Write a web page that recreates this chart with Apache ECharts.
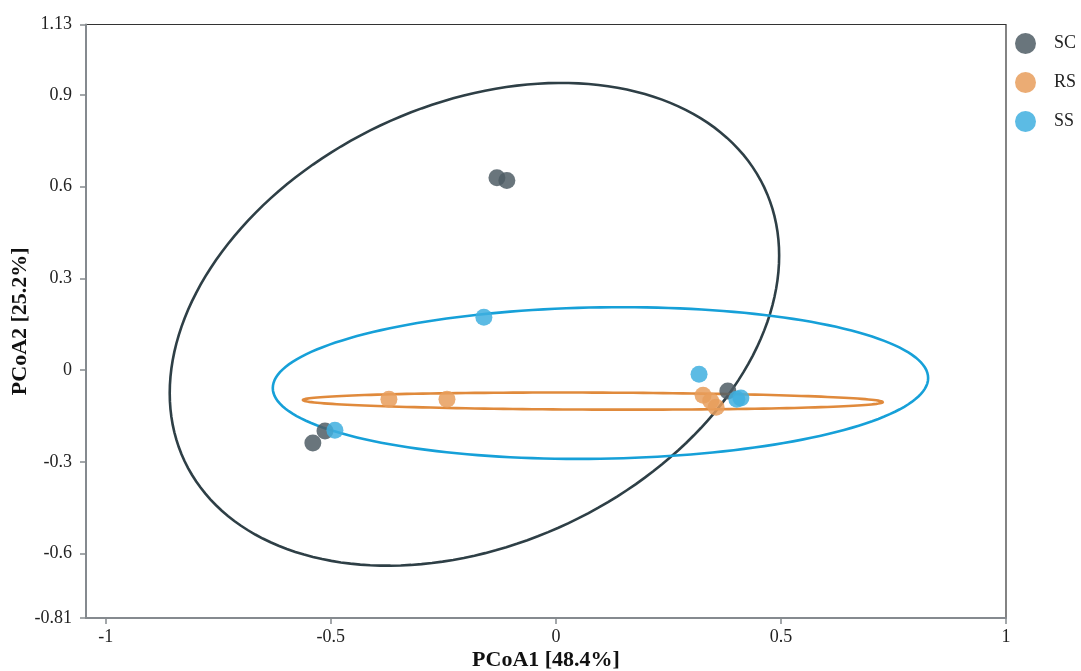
<!DOCTYPE html>
<html>
<head>
<meta charset="utf-8">
<script src="https://cdn.jsdelivr.net/npm/echarts@6/dist/echarts.min.js"></script>
<style>
html,body{margin:0;padding:0;background:#fff;}
#main{width:1081px;height:671px;}
</style>
</head>
<body>
<div id="main"></div>
<script>
// groups
var groups = ['SC', 'RS', 'SS'];
var pointColors = ['#4f5d65', '#e89d5c', '#3fafdf'];
var lineColors = ['#2e3f46', '#e08a3c', '#16a0d8'];

// sample scores [PCoA1, PCoA2]
var scPoints = [[-0.131, 0.629], [-0.109, 0.620], [-0.513, -0.199], [-0.540, -0.238], [0.382, -0.068]];
var rsPoints = [[-0.371, -0.095], [-0.242, -0.095], [0.327, -0.082], [0.344, -0.101], [0.356, -0.121]];
var ssPoints = [[-0.160, 0.173], [-0.491, -0.196], [0.318, -0.013], [0.402, -0.095], [0.411, -0.091]];

// confidence ellipses: [centerX, centerY, halfWidthX, halfHeightY, rho]
var scEllipse = [-0.181, 0.150, 0.677, 0.789, 0.285];
var rsEllipse = [0.082, -0.101, 0.644, 0.028, -0.12];
var ssEllipse = [0.099, -0.042, 0.728, 0.248, 0.066];

var xTicks = [-1, -0.5, 0, 0.5, 1];
var yTicks = [-0.81, -0.6, -0.3, 0, 0.3, 0.6, 0.9, 1.13];

var serif = '"Liberation Serif", "DejaVu Serif", serif';

function ellipseSeries(e, color){
  return {
    type: 'custom',
    name: 'ellipse',
    silent: true,
    z: 1,
    data: [[e[0], e[1]]],
    renderItem: function(params, api){
      var pts = [];
      var r = Math.sqrt(1 - e[4]*e[4]);
      for(var i=0;i<=180;i++){
        var t = i/180*Math.PI*2;
        var x = e[0] + e[2]*Math.cos(t);
        var y = e[1] + e[3]*(e[4]*Math.cos(t) + r*Math.sin(t));
        pts.push(api.coord([x, y]));
      }
      return {
        type: 'polygon',
        shape: {points: pts},
        style: {fill: 'none', stroke: color, lineWidth: 2.6}
      };
    }
  };
}

function pointSeries(name, data, color){
  return {
    type: 'scatter',
    name: name,
    data: data,
    symbolSize: 17,
    z: 3,
    itemStyle: {color: color, opacity: 0.85}
  };
}

var myChart = echarts.init(document.getElementById('main'));
var option = {
  animation: false,
  backgroundColor: '#fff',
  grid: {
    left: 86, right: 75, top: 24.5, bottom: 53,
    outerBoundsMode: 'none',
    containLabel: false,
    show: true, borderColor: '#333', borderWidth: 1.2
  },
  legend: {
    data: groups,
    orient: 'vertical',
    left: 1010,
    top: 28,
    icon: 'circle',
    itemWidth: 21,
    itemHeight: 21,
    itemGap: 18,
    textStyle: {fontFamily: serif, fontSize: 18, color: '#222', padding: [0, 0, 8, 13]}
  },
  xAxis: {
    type: 'value',
    min: -1.044,
    max: 1.0,
    name: 'PCoA1 [48.4%]',
    nameLocation: 'middle',
    nameGap: 31,
    nameMoveOverlap: false,
    nameTextStyle: {fontFamily: serif, fontSize: 22, fontWeight: 'bold', color: '#111'},
    splitLine: {show: false},
    axisLine: {show: true, onZero: false, lineStyle: {color: '#858a8f', width: 2}},
    axisTick: {show: true, customValues: xTicks, length: 6, lineStyle: {color: '#858a8f', width: 1.5}},
    axisLabel: {
      customValues: xTicks,
      margin: 10,
      fontFamily: serif, fontSize: 18, color: '#222',
      formatter: function(v){ return String(v); }
    }
  },
  yAxis: {
    type: 'value',
    min: -0.81,
    max: 1.13,
    name: 'PCoA2 [25.2%]',
    nameLocation: 'middle',
    nameGap: 55,
    nameMoveOverlap: false,
    nameTextStyle: {fontFamily: serif, fontSize: 22, fontWeight: 'bold', color: '#111'},
    splitLine: {show: false},
    axisLine: {show: true, onZero: false, lineStyle: {color: '#858a8f', width: 2}},
    axisTick: {show: true, customValues: yTicks, length: 6, lineStyle: {color: '#858a8f', width: 1.5}},
    axisLabel: {
      customValues: yTicks,
      margin: 14,
      fontFamily: serif, fontSize: 18, color: '#222',
      formatter: function(v){ return String(v); }
    }
  },
  series: [
    ellipseSeries(scEllipse, lineColors[0]),
    ellipseSeries(rsEllipse, lineColors[1]),
    ellipseSeries(ssEllipse, lineColors[2]),
    pointSeries('SC', scPoints, pointColors[0]),
    pointSeries('RS', rsPoints, pointColors[1]),
    pointSeries('SS', ssPoints, pointColors[2])
  ]
};
myChart.setOption(option);
</script>
</body>
</html>
